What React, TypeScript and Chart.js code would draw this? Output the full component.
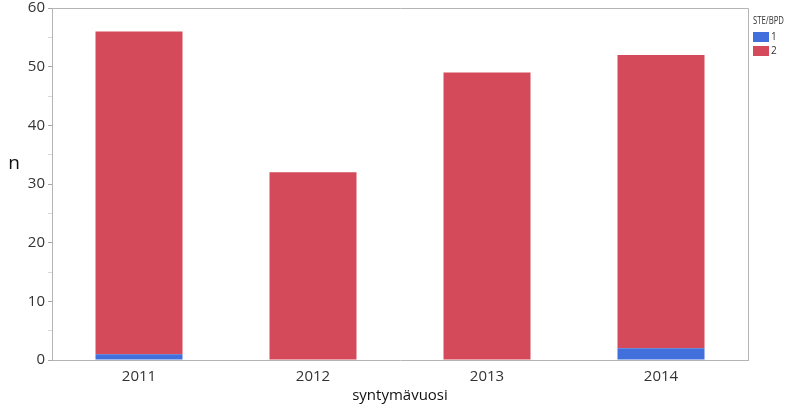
import React, { useEffect, useRef } from "react";
import { Chart, registerables } from "chart.js";

Chart.register(...registerables);

const categories = ["2011", "2012", "2013", "2014"];
const series1 = [1, 0, 0, 2];
const series2 = [55, 32, 49, 50];
const seriesLabels = ["1", "2"];
const legendTitle = "STE/BPD";
const yTitle = "n";
const xTitle = "syntymävuosi";
const colors = ["#4170DC", "#D54A5A"];

const font = "'Segoe UI', 'Open Sans', 'DejaVu Sans', sans-serif";

const framePlugin = {
  id: "frame",
  afterDraw(chart: any) {
    const { ctx, chartArea } = chart;
    ctx.save();
    ctx.strokeStyle = "#B4B4B4";
    ctx.lineWidth = 1;
    ctx.beginPath();
    ctx.moveTo(chartArea.left, chartArea.top + 0.5);
    ctx.lineTo(chartArea.right + 0.5, chartArea.top + 0.5);
    ctx.lineTo(chartArea.right + 0.5, chartArea.bottom);
    ctx.stroke();
    // y title (horizontal)
    ctx.fillStyle = "#111";
    ctx.font = `19px ${font}`;
    ctx.textAlign = "center";
    ctx.textBaseline = "middle";
    ctx.fillText(yTitle, 14, 164);
    // legend
    const lx = chartArea.right + 5;
    ctx.fillStyle = "#333";
    ctx.font = "10px 'Open Sans', sans-serif";
    ctx.textBaseline = "middle";
    ctx.textAlign = "left";
    ctx.fillText(legendTitle, lx, 21, 31);
    chart.data.datasets.forEach((ds: any, i: number) => {
      const y = 32 + i * 14;
      ctx.fillStyle = ds.backgroundColor;
      ctx.fillRect(lx, y, 16, 10);
      ctx.fillStyle = "#333";
      ctx.fillText(ds.label, lx + 18, y + 5);
    });
    ctx.restore();
  },
};

export default function App() {
  const ref = useRef<HTMLCanvasElement>(null);
  useEffect(() => {
    if (!ref.current) return;
    const chart = new Chart(ref.current, {
      type: "bar",
      data: {
        labels: categories,
        datasets: [
          { label: seriesLabels[0], data: series1, backgroundColor: colors[0] },
          { label: seriesLabels[1], data: series2, backgroundColor: colors[1] },
        ],
      },
      options: {
        animation: false,
        responsive: false,
        layout: { padding: { top: 8, right: 42, left: 0, bottom: 0 } },
        plugins: { legend: { display: false }, tooltip: { enabled: false } },
        datasets: { bar: { categoryPercentage: 1, barPercentage: 0.5 } },
        scales: {
          x: {
            stacked: true,
            offset: true,
            grid: { display: false, drawTicks: false },
            border: { color: "#B4B4B4" },
            ticks: { color: "#333", font: { size: 15, family: font }, padding: 8 },
            title: { display: true, text: xTitle, color: "#111", font: { size: 15, family: font }, padding: 0 },
            afterFit(scale: any) { scale.height = 45; scale.paddingLeft = 0; scale.paddingRight = 0; },
          },
          y: {
            stacked: true,
            min: 0,
            max: 60,
            ticks: {
              stepSize: 5,
              color: "#333",
              font: { size: 15, family: font },
              padding: 3,
              callback: (v: any) => (Number(v) % 10 === 0 ? String(v) : ""),
            },
            grid: {
              drawOnChartArea: false,
              drawTicks: true,
              tickLength: 4,
              color: "#B4B4B4",
              tickColor: (c: any) => (c.tick && c.tick.value % 10 === 0 ? "#A8A8A8" : "#D8D8D8"),
            },
            border: { color: "#B4B4B4" },
            title: { display: false },
            afterFit(scale: any) { scale.width = 52; scale.paddingTop = 0; scale.paddingBottom = 0; },
          },
        },
      },
      plugins: [framePlugin],
    });
    return () => chart.destroy();
  }, []);
  return (
    <div style={{ position: "fixed", left: 0, top: 0, width: 790, height: 405, background: "#fff" }}>
      <canvas ref={ref} width={790} height={405} />
    </div>
  );
}
